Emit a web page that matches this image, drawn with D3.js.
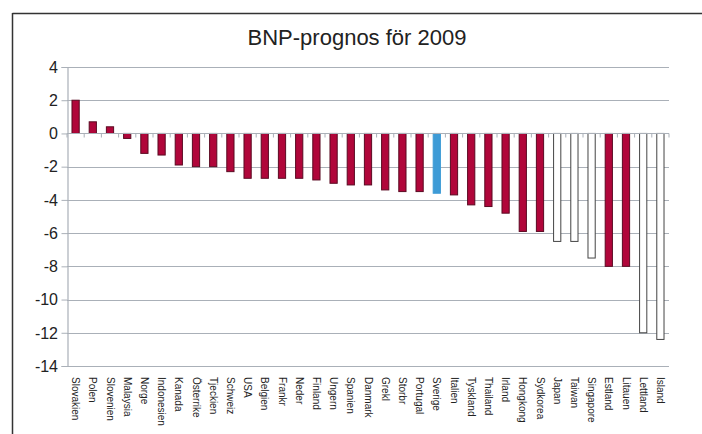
<!DOCTYPE html>
<html>
<head>
<meta charset="utf-8">
<script src="https://cdn.jsdelivr.net/npm/d3@7"></script>
<style>
  body { margin: 0; background: #fff; }
  svg { display: block; font-family: Arial, "Liberation Sans", sans-serif; }
</style>
</head>
<body>
<svg id="chart" width="702" height="434"></svg>
<script>
// data
const countries = ["Slovakien", "Polen", "Slovenien", "Malaysia", "Norge", "Indonesien", "Kanada",
  "Österrike", "Tjeckien", "Schweiz", "USA", "Belgien", "Frankr", "Neder", "Finland", "Ungern",
  "Spanien", "Danmark", "Grekl", "Storbr", "Portugal", "Sverige", "Italien", "Tyskland", "Thailand",
  "Irland", "Hongkong", "Sydkorea", "Japan", "Taiwan", "Singapore", "Estland", "Litauen", "Lettland", "Island"];
const gdp2009 = [2.0, 0.7, 0.4, -0.3, -1.2, -1.3, -1.9, -2.0, -2.0, -2.3, -2.7, -2.7, -2.7, -2.7, -2.8, -3.0,
  -3.1, -3.1, -3.4, -3.5, -3.5, -3.6, -3.7, -4.3, -4.4, -4.8, -5.9, -5.9, -6.5, -6.5, -7.5, -8.0, -8.0, -12.0, -12.4];
// bar style: r = red, b = blue (Sverige), o = open
const barType = ["r", "r", "r", "r", "r", "r", "r", "r", "r", "r", "r", "r", "r", "r", "r", "r",
  "r", "r", "r", "r", "r", "b", "r", "r", "r", "r", "r", "r", "o", "o", "o", "r", "r", "o", "o"];
const yTicks = [4, 2, 0, -2, -4, -6, -8, -10, -12, -14];

const data = countries.map((c, i) => ({ name: c, value: gdp2009[i], type: barType[i] }));

const svg = d3.select("#chart");
const plotLeft = 67, plotRight = 669, plotTop = 67, plotBottom = 366;

// outer frame (cropped box)
svg.append("line").attr("x1", 12.5).attr("x2", 702).attr("y1", 13.5).attr("y2", 13.5)
  .attr("stroke", "#333").attr("stroke-width", 1.5);
svg.append("line").attr("x1", 12.5).attr("x2", 12.5).attr("y1", 13).attr("y2", 434)
  .attr("stroke", "#333").attr("stroke-width", 1.5);

svg.append("text")
  .attr("x", 357).attr("y", 45)
  .attr("text-anchor", "middle")
  .attr("font-size", "22px")
  .attr("fill", "#222")
  .text("BNP-prognos för 2009");

const x = d3.scaleBand().domain(countries).range([plotLeft, plotRight]).paddingInner(0.58).paddingOuter(0.29);
const y = d3.scaleLinear().domain([-14, 4]).range([plotBottom, plotTop]);

// gridlines
svg.append("g")
  .selectAll("line")
  .data(yTicks)
  .join("line")
  .attr("x1", plotLeft).attr("x2", plotRight)
  .attr("y1", d => Math.round(y(d)) + 0.5).attr("y2", d => Math.round(y(d)) + 0.5)
  .attr("stroke", "#aab0b8").attr("stroke-width", 1.2);

// y axis (ticks from d3, labels drawn separately)
const yAxis = svg.append("g")
  .attr("transform", `translate(${plotLeft + 0.5},0)`)
  .call(d3.axisLeft(y).tickValues(yTicks).tickSize(6).tickFormat(""));
yAxis.select(".domain").attr("stroke", "#aab0b8").attr("stroke-width", 1.2);
yAxis.selectAll(".tick line").attr("stroke", "#aab0b8");

svg.append("g")
  .selectAll("text")
  .data(yTicks)
  .join("text")
  .attr("x", 58)
  .attr("y", d => y(d))
  .attr("dy", "0.36em")
  .attr("text-anchor", "end")
  .attr("font-size", 16)
  .attr("fill", "#222")
  .text(d => d < 0 ? "-" + Math.abs(d) : d);

// bars
svg.append("g")
  .selectAll("rect")
  .data(data)
  .join("rect")
  .attr("x", d => x(d.name))
  .attr("width", x.bandwidth())
  .attr("y", d => y(Math.max(0, d.value)))
  .attr("height", d => Math.abs(y(d.value) - y(0)))
  .attr("fill", d => d.type === "r" ? "#b0063a" : d.type === "b" ? "#3d9bd6" : "#fff")
  .attr("stroke", d => d.type === "o" ? "#444" : d.type === "r" ? "#5a0a22" : "#3d9bd6")
  .attr("stroke-width", 1);

// zero axis with ticks between categories
const step = x.step();
const zy = Math.round(y(0)) + 0.5;
svg.append("line").attr("x1", plotLeft).attr("x2", plotRight).attr("y1", zy).attr("y2", zy)
  .attr("stroke", "#aab0b8").attr("stroke-width", 1.2);
svg.append("g")
  .selectAll("line")
  .data(d3.range(countries.length + 1))
  .join("line")
  .attr("x1", i => plotLeft + i * step).attr("x2", i => plotLeft + i * step)
  .attr("y1", zy).attr("y2", zy + 4)
  .attr("stroke", "#aab0b8");

// category labels
svg.append("g")
  .selectAll("text")
  .data(countries)
  .join("text")
  .attr("transform", d => `translate(${x(d) + x.bandwidth() / 2 - 3.5},377) rotate(90)`)
  .attr("font-size", "10px")
  .attr("fill", "#222")
  .text(d => d);
</script>
</body>
</html>
